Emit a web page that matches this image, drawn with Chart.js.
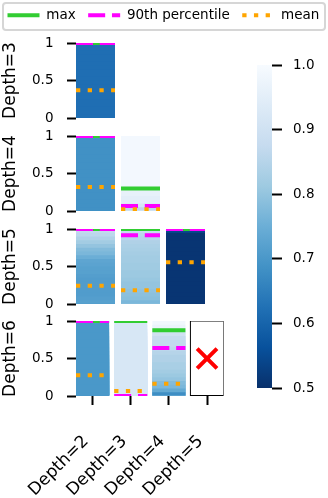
<!DOCTYPE html>
<html>
<head>
<meta charset="utf-8">
<script src="https://cdn.jsdelivr.net/npm/chart.js@4/dist/chart.umd.min.js"></script>
<style>
html,body{margin:0;padding:0;background:#fff;overflow:hidden;width:328px;height:498px;}
#wrap{position:relative;width:328px;height:498px;overflow:hidden;}
canvas{position:absolute;}
#legendFrame{position:absolute;left:2px;top:2px;width:324px;height:29px;box-sizing:border-box;border:2px solid #d6d6d6;border-radius:4px;z-index:9;}
#legendCanvas{z-index:10;}
</style>
</head>
<body>
<div id="wrap">
  <canvas id="row0" width="250" height="119" style="left:0;top:21px"></canvas>
  <canvas id="row1" width="250" height="119" style="left:0;top:114px"></canvas>
  <canvas id="row2" width="250" height="119" style="left:0;top:207px"></canvas>
  <canvas id="row3" width="250" height="199" style="left:0;top:299px"></canvas>
  <canvas id="cbar" width="78" height="363" style="left:250px;top:45px"></canvas>
  <div id="legendFrame"></div>
  <canvas id="legendCanvas" width="400" height="90" style="left:-5px;top:-4px"></canvas>
</div>
<script>
// ---------------- data ----------------
const colLabels = ['Depth=2', 'Depth=3', 'Depth=4', 'Depth=5'];
const rowLabels = ['Depth=3', 'Depth=4', 'Depth=5', 'Depth=6'];
const legendNames = ['max', '90th percentile', 'mean'];
const yTickValues = [0, 0.5, 1];
const colorRange = [0.5, 1.0];
const colorbarTicks = [0.5, 0.6, 0.7, 0.8, 0.9, 1.0];
const bandEdges = [0, 0.05, 0.1, 0.15, 0.2, 0.25, 0.3, 0.35, 0.4, 0.45, 0.5,
                   0.55, 0.6, 0.65, 0.7, 0.75, 0.8, 0.85, 0.9, 0.95, 1.0];

// cell shading values (bottom band -> top band), null = no cell
const shadeD3xD2 = [0.62,0.62,0.62,0.62,0.62,0.62,0.62,0.62,0.62,0.62,0.62,0.62,0.62,0.62,0.62,0.62,0.62,0.62,0.62,0.62];
const shadeD4xD2 = [0.685,0.685,0.685,0.685,0.685,0.685,0.685,0.685,0.685,0.685,0.685,0.685,0.685,0.685,0.685,0.685,0.685,0.685,0.685,0.685];
const shadeD4xD3 = [0.86,0.92,0.95,0.95,0.96,0.96,0.985,0.99,0.99,0.99,0.99,0.99,0.99,0.99,0.99,0.99,0.99,0.99,0.99,0.99];
const shadeD5xD2 = [0.72,0.715,0.71,0.71,0.71,0.71,0.71,0.715,0.72,0.72,0.725,0.73,0.75,0.77,0.78,0.80,0.82,0.84,0.86,0.87];
const shadeD5xD3 = [0.77,0.785,0.79,0.795,0.80,0.80,0.805,0.81,0.81,0.815,0.815,0.82,0.82,0.825,0.83,0.835,0.84,0.85,0.86,0.88];
const shadeD5xD4 = [0.51,0.51,0.51,0.51,0.51,0.51,0.51,0.51,0.51,0.51,0.51,0.51,0.51,0.51,0.51,0.51,0.51,0.51,0.51,0.545];
const shadeD6xD2 = [0.70,0.70,0.70,0.70,0.70,0.70,0.70,0.70,0.70,0.70,0.70,0.70,0.70,0.70,0.70,0.70,0.70,0.70,0.70,0.70];
const shadeD6xD3 = [0.92,0.92,0.92,0.92,0.92,0.92,0.92,0.92,0.92,0.92,0.92,0.92,0.92,0.92,0.92,0.92,0.92,0.92,0.92,0.92];
const shadeD6xD4 = [0.68,0.74,0.77,0.78,0.80,0.81,0.82,0.83,0.83,0.84,0.84,0.85,0.86,0.87,0.87,0.88,0.90,0.93,0.97,0.985];

const shadeD3 = [shadeD3xD2, null, null, null];
const shadeD4 = [shadeD4xD2, shadeD4xD3, null, null];
const shadeD5 = [shadeD5xD2, shadeD5xD3, shadeD5xD4, null];
const shadeD6 = [shadeD6xD2, shadeD6xD3, shadeD6xD4, null];

const maxD3  = [1.0, null, null, null];
const p90D3  = [1.0, null, null, null];
const meanD3 = [0.37, null, null, null];

const maxD4  = [1.0, 0.30, null, null];
const p90D4  = [1.0, 0.067, null, null];
const meanD4 = [0.32, 0.025, null, null];

const maxD5  = [1.0, 1.0, 1.0, null];
const p90D5  = [1.0, 0.916, 1.0, null];
const meanD5 = [0.244, 0.183, 0.556, null];

const maxD6  = [1.0, 1.0, 0.876, null];
const p90D6  = [1.0, 0.0, 0.64, null];
const meanD6 = [0.276, 0.067, 0.163, null];

const failedD3 = [false, false, false, false];
const failedD4 = [false, false, false, false];
const failedD5 = [false, false, false, false];
const failedD6 = [false, false, false, true];

// ---------------- styles ----------------
const BLUES = ['#f7fbff','#deebf7','#c6dbef','#9ecae1','#6baed6','#4292c6','#2171b5','#08519c','#08306b'];
const COL_MAX = '#32cd32', COL_P90 = '#ff00ff', COL_MEAN = '#ffa500';
const DASH_P90 = [17, 6.8], DASH_MEAN = [4.3, 7.4];
const HALF = 13 / 30;        // half cell width in column units (39px cell on a 45px pitch)
const LINE_W = 4;

Chart.defaults.font.family = "'DejaVu Sans', sans-serif";
Chart.defaults.font.size = 13.5;
Chart.defaults.color = '#000';

function hexToRgb(h){return [parseInt(h.slice(1,3),16),parseInt(h.slice(3,5),16),parseInt(h.slice(5,7),16)];}
const BLUES_RGB = BLUES.map(hexToRgb);
function bluesR(v){
  let t = (v - colorRange[0]) / (colorRange[1] - colorRange[0]);
  t = Math.max(0, Math.min(1, t));
  const s = (1 - t) * (BLUES_RGB.length - 1);
  const i = Math.min(Math.floor(s), BLUES_RGB.length - 2);
  const f = s - i;
  const a = BLUES_RGB[i], b = BLUES_RGB[i+1];
  const c = a.map((x, j) => Math.round(x + (b[j] - x) * f));
  return 'rgb(' + c.join(',') + ')';
}

const rows = [
  {label: rowLabels[0], shade: shadeD3, max: maxD3, p90: p90D3, mean: meanD3, failed: failedD3},
  {label: rowLabels[1], shade: shadeD4, max: maxD4, p90: p90D4, mean: meanD4, failed: failedD4},
  {label: rowLabels[2], shade: shadeD5, max: maxD5, p90: p90D5, mean: meanD5, failed: failedD5},
  {label: rowLabels[3], shade: shadeD6, max: maxD6, p90: p90D6, mean: meanD6, failed: failedD6}
];

function segments(vals){
  const pts = [];
  vals.forEach((v, c) => {
    if (v === null || v === undefined) return;
    pts.push({x: c - HALF, y: v}, {x: c + HALF, y: v}, {x: c + 0.5, y: null});
  });
  return pts;
}

function makeRow(r, canvasId, showX){
  const row = rows[r];
  const yMin = yTickValues[0], yMax = yTickValues[yTickValues.length - 1];
  const datasets = [];
  const nBands = bandEdges.length - 1;
  for (let k = 0; k < nBands; k++){
    const data = [], colours = [];
    row.shade.forEach((cell, c) => {
      if (!cell) return;
      data.push({x: c, y: [bandEdges[0], bandEdges[k + 1]]});
      colours.push(bluesR(cell[k]));
    });
    datasets.push({type: 'bar', data, backgroundColor: colours, borderWidth: 0, grouped: false,
      order: 100 + k, categoryPercentage: 2 * HALF, barPercentage: 1, inflateAmount: 0});
  }
  // failed cells: outlined empty box + red cross
  const failBox = [], failMark = [];
  row.failed.forEach((f, c) => {
    if (!f) return;
    failBox.push({x: c, y: [yMin, yMax]});
    failMark.push({x: c, y: (yMin + yMax) / 2});
  });
  if (failBox.length){
    datasets.push({type: 'bar', data: failBox, backgroundColor: '#ffffff', borderColor: '#000000',
      borderWidth: 1.2, inflateAmount: 0.8, borderSkipped: false, grouped: false, order: 50,
      categoryPercentage: 2 * HALF, barPercentage: 1});
    datasets.push({type: 'line', data: failMark, showLine: false, pointStyle: 'crossRot',
      pointRadius: 14, pointBorderWidth: 4, pointBorderColor: '#ff0000', pointBackgroundColor: '#ff0000',
      order: 0, clip: false});
  }
  datasets.push({type: 'line', label: legendNames[0], data: segments(row.max), borderColor: COL_MAX,
    borderWidth: LINE_W, pointRadius: 0, spanGaps: false, order: 3, tension: 0});
  datasets.push({type: 'line', label: legendNames[1], data: segments(row.p90), borderColor: COL_P90,
    borderWidth: LINE_W, borderDash: DASH_P90, pointRadius: 0, spanGaps: false, order: 2, tension: 0});
  datasets.push({type: 'line', label: legendNames[2], data: segments(row.mean), borderColor: COL_MEAN,
    borderWidth: LINE_W, borderDash: DASH_MEAN, pointRadius: 0, spanGaps: false, order: 1, tension: 0});

  return new Chart(document.getElementById(canvasId), {
    type: 'bar',
    data: {datasets},
    options: {
      responsive: false, animation: false, devicePixelRatio: 1,
      layout: {padding: {top: 22, bottom: showX ? 0 : 22, left: 0, right: 0}},
      plugins: {legend: {display: false}, tooltip: {enabled: false}},
      scales: {
        x: {
          type: 'linear', min: -HALF, max: colLabels.length - 1 + HALF, offset: false, display: showX,
          afterBuildTicks: s => { s.ticks = colLabels.map((_, i) => ({value: i})); },
          afterFit: s => { if (showX) s.height = 102; },
          grid: {display: true, offset: false, drawOnChartArea: false, drawTicks: true, tickLength: 9, tickWidth: 2, tickColor: '#000'},
          border: {display: false},
          ticks: {autoSkip: false, maxRotation: 45, minRotation: 45, padding: 26.5, labelOffset: -6.5,
            font: {size: 17}, color: '#000', callback: (v, i) => colLabels[i]}
        },
        y: {
          type: 'linear', min: yMin, max: yMax,
          afterBuildTicks: s => { s.ticks = yTickValues.map(v => ({value: v})); },
          afterFit: s => { s.width = 76; },
          grid: {display: true, drawOnChartArea: false, drawTicks: true, tickLength: 9, tickWidth: 2, tickColor: '#000'},
          border: {display: false},
          ticks: {padding: 13.5, font: {size: 13.5}, color: '#000', callback: v => String(v)},
          title: {display: true, text: row.label, font: {size: 17}, color: '#000', padding: 0}
        }
      }
    }
  });
}

makeRow(0, 'row0', false);
makeRow(1, 'row1', false);
makeRow(2, 'row2', false);
makeRow(3, 'row3', true);

// ---------------- colour bar ----------------
new Chart(document.getElementById('cbar'), {
  type: 'bar',
  data: {labels: [''], datasets: [{
    data: [colorRange],
    borderWidth: 0, barPercentage: 1, categoryPercentage: 1, inflateAmount: 0,
    backgroundColor: (ctx) => {
      const chart = ctx.chart;
      if (!chart.chartArea) return BLUES[4];
      const y = chart.scales.y;
      const g = chart.ctx.createLinearGradient(0, y.getPixelForValue(colorRange[0]), 0, y.getPixelForValue(colorRange[1]));
      const n = BLUES.length - 1;
      for (let j = 0; j <= n; j++) g.addColorStop(j / n, BLUES[n - j]);
      return g;
    }
  }]},
  options: {
    responsive: false, animation: false, devicePixelRatio: 1,
    layout: {padding: {top: 20, bottom: 20, left: 7, right: 0}},
    plugins: {legend: {display: false}, tooltip: {enabled: false}},
    scales: {
      x: {display: false},
      y: {
        position: 'right', min: colorRange[0], max: colorRange[1],
        afterBuildTicks: s => { s.ticks = colorbarTicks.map(v => ({value: v})); },
        afterFit: s => { s.width = 56; },
        grid: {display: true, drawOnChartArea: false, drawTicks: true, tickLength: 10, tickWidth: 2, tickColor: '#000'},
        border: {display: false},
        ticks: {padding: 11, font: {size: 13.5}, color: '#000', callback: v => Number(v).toFixed(1)}
      }
    }
  }
});

// ---------------- legend ----------------
new Chart(document.getElementById('legendCanvas'), {
  type: 'line',
  data: {datasets: [
    {label: legendNames[0], data: [], borderColor: COL_MAX, borderWidth: LINE_W},
    {label: legendNames[1], data: [], borderColor: COL_P90, borderWidth: LINE_W, borderDash: DASH_P90},
    {label: legendNames[2], data: [], borderColor: COL_MEAN, borderWidth: LINE_W, borderDash: DASH_MEAN}
  ]},
  options: {
    responsive: false, animation: false, devicePixelRatio: 1,
    layout: {padding: 0},
    scales: {x: {display: false}, y: {display: false}},
    plugins: {
      tooltip: {enabled: false},
      legend: {
        display: true, position: 'top', align: 'start', maxHeight: 80,
        labels: {
          usePointStyle: true, pointStyleWidth: 32, padding: 12.5,
          font: {size: 13.5}, color: '#000',
          generateLabels: (chart) => chart.data.datasets.map((ds, i) => ({
            text: ds.label, fillStyle: ds.borderColor, strokeStyle: ds.borderColor,
            lineWidth: ds.borderWidth, lineDash: ds.borderDash || [], lineCap: 'butt',
            pointStyle: 'line', datasetIndex: i, hidden: false, fontColor: '#000'
          }))
        }
      }
    }
  }
});
</script>
</body>
</html>
